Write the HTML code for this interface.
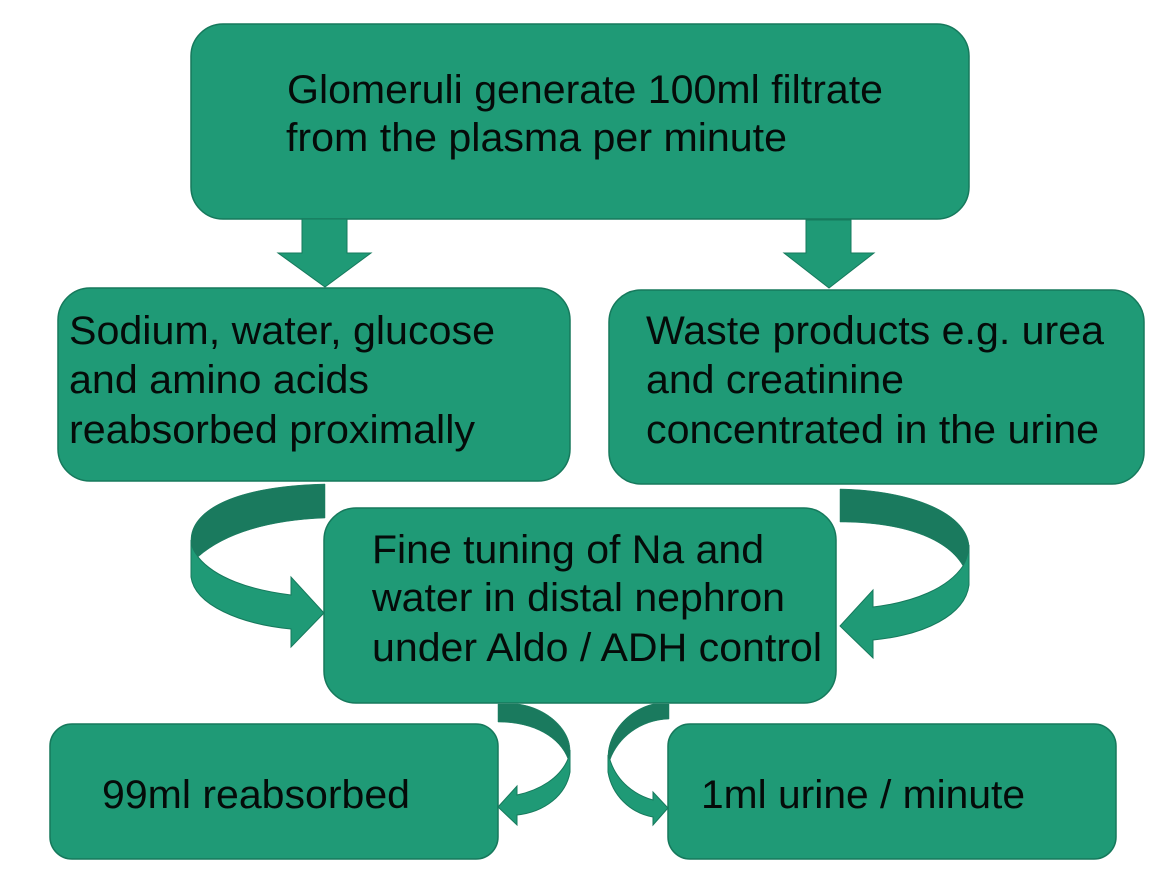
<!DOCTYPE html>
<html><head><meta charset="utf-8"><style>
html,body{margin:0;padding:0;background:#fff;width:1162px;height:879px;overflow:hidden}
svg{display:block}
text{font-family:"Liberation Sans",Arial,sans-serif;font-size:40px;fill:#050b09}
.b{fill:#1f9a76;stroke:#16795c;stroke-width:1.5}
.d{fill:#1a7a5e;stroke:#1a7a5e;stroke-width:.5}
.a{fill:#1f9a76;stroke:#16795c;stroke-width:1}
</style></head><body>
<svg width="1162" height="879" viewBox="0 0 1162 879" xmlns="http://www.w3.org/2000/svg">
<rect class="b" x="191" y="24" width="778" height="195" rx="32"/>
<rect class="b" x="58" y="288" width="512" height="193" rx="32"/>
<rect class="b" x="609" y="290" width="535" height="194" rx="32"/>
<rect class="b" x="324" y="508" width="512" height="195" rx="32"/>
<rect class="b" x="50" y="724" width="448" height="135" rx="22"/>
<rect class="b" x="668" y="724" width="448" height="135" rx="22"/>

<path class="a" d="M302 219H347V253H371L325 287L278 253H302Z"/>
<path class="a" d="M806 220H851V253H874L829 288L784 253H806Z"/>

<path class="a" d="M191 540V577C195 605 240 624 291 629V647L324 613L291 577V595C250 590 215 578 198 557Z"/>
<path class="d" d="M325 484V518C270 520 225 533 198 557C194 552 191 547 191 540C191 510 235 486 325 484Z"/>

<path class="a" d="M969 545V585C965 615 925 635 873 640V658L840 626L873 590V607C915 602 948 588 963 566Z"/>
<path class="d" d="M840 489V522C895 522 945 535 963 566C966 562 969 553 969 545C965 510 905 490 840 489Z"/>

<path class="a" d="M570 750V772C566 795 545 812 517 815V825L498 807L517 786V795C540 790 560 778 568 759Z"/>
<path class="d" d="M498 704H518C548 708 570 730 570 750C570 753 569 756 568 759C560 738 535 722 498 722Z"/>

<path class="a" d="M608 755V772C612 795 630 813 653 817V825L668 808L653 792V800C635 795 617 782 610 760Z"/>
<path class="d" d="M669 704V719C640 720 618 738 610 760C609 758 608 757 608 755C609 732 628 710 653 704Z"/>

<text x="287" y="103" textLength="596" lengthAdjust="spacingAndGlyphs">Glomeruli generate 100ml filtrate</text>
<text x="286" y="151" textLength="501" lengthAdjust="spacingAndGlyphs">from the plasma per minute</text>
<text x="69" y="344" textLength="426" lengthAdjust="spacingAndGlyphs">Sodium, water, glucose</text>
<text x="69" y="393" textLength="300" lengthAdjust="spacingAndGlyphs">and amino acids</text>
<text x="69" y="443" textLength="406" lengthAdjust="spacingAndGlyphs">reabsorbed proximally</text>
<text x="646" y="344" textLength="458" lengthAdjust="spacingAndGlyphs">Waste products e.g. urea</text>
<text x="646" y="393" textLength="258" lengthAdjust="spacingAndGlyphs">and creatinine</text>
<text x="646" y="443" textLength="453" lengthAdjust="spacingAndGlyphs">concentrated in the urine</text>
<text x="372" y="563" textLength="392" lengthAdjust="spacingAndGlyphs">Fine tuning of Na and</text>
<text x="372" y="611" textLength="413" lengthAdjust="spacingAndGlyphs">water in distal nephron</text>
<text x="372" y="661" textLength="450" lengthAdjust="spacingAndGlyphs">under Aldo / ADH control</text>
<text x="102" y="808" textLength="308" lengthAdjust="spacingAndGlyphs">99ml reabsorbed</text>
<text x="701" y="808" textLength="324" lengthAdjust="spacingAndGlyphs">1ml urine / minute</text>
</svg>
</body></html>
